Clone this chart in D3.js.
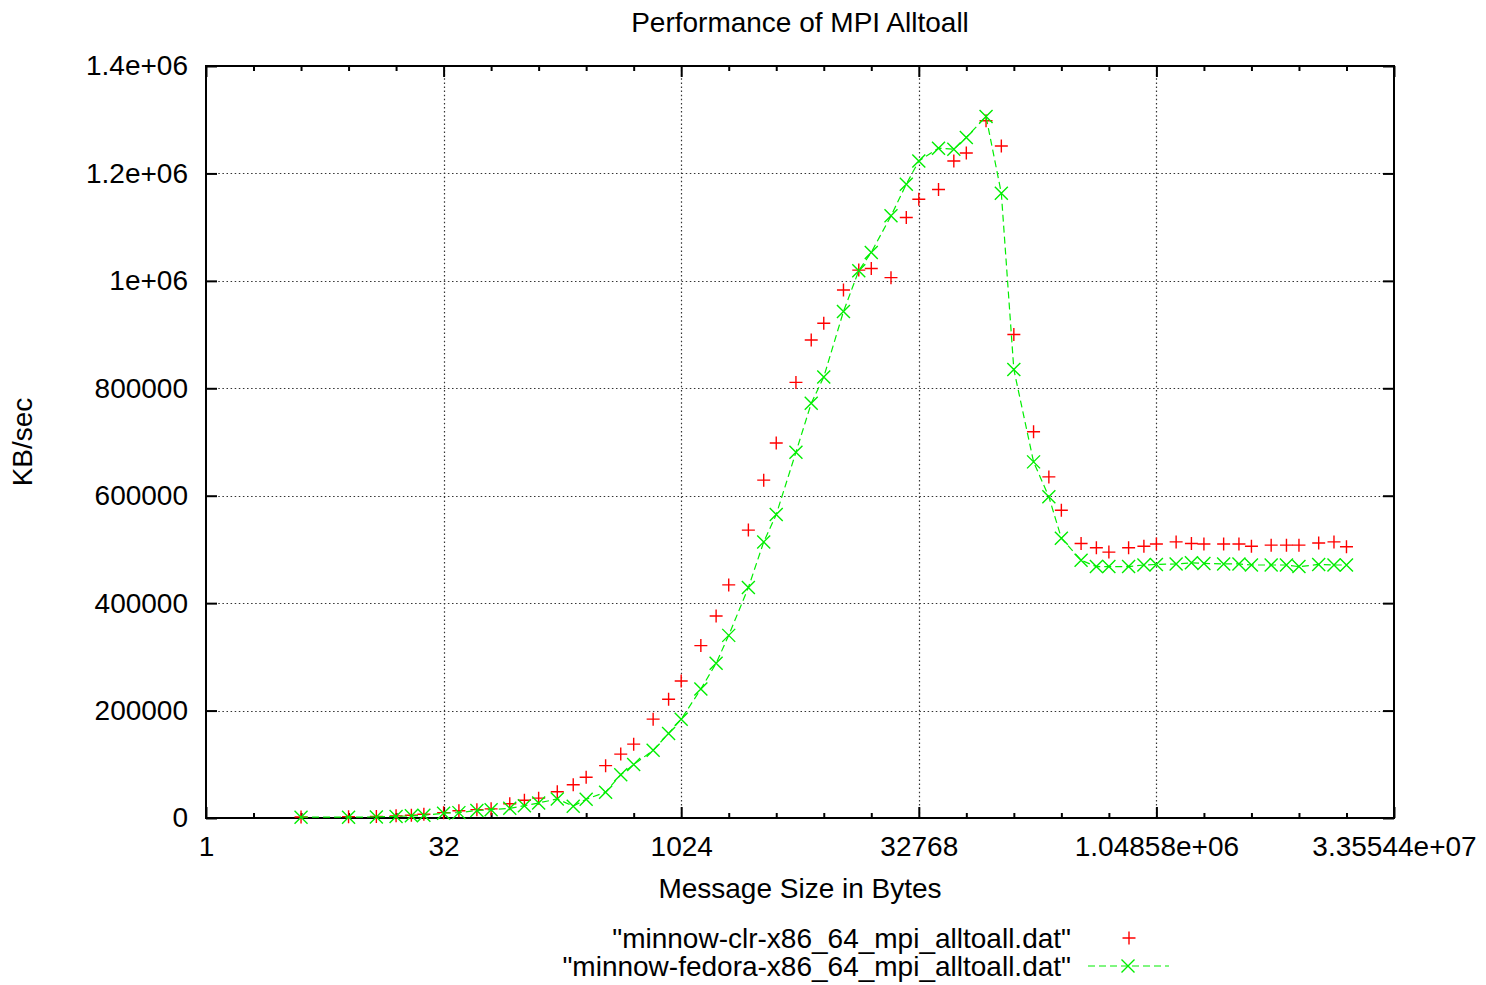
<!DOCTYPE html>
<html>
<head>
<meta charset="utf-8">
<script src="https://cdn.jsdelivr.net/npm/d3@7"></script>
<style>
  html, body { margin: 0; padding: 0; background: #fff; }
  svg { display: block; }
  text { font-family: "Liberation Sans", Arial, Helvetica, sans-serif; fill: #000; }
</style>
</head>
<body>
<svg id="chart" width="1486" height="985"></svg>
<script>
// ---- data ----
const messageSizes = [4, 8, 12, 16, 20, 24, 32, 40, 52, 64, 84, 104, 128, 168, 212, 256, 340, 424,
  512, 680, 852, 1024, 1364, 1704, 2048, 2728, 3412, 4096, 5460, 6824, 8192, 10920, 13652,
  16384, 21844, 27304, 32768, 43688, 54612, 65536, 87380, 109224, 131072, 174760, 218452,
  262144, 349524, 436904, 524288, 699048, 873812, 1048576, 1398100, 1747624, 2097152,
  2796200, 3495252, 4194304, 5592404, 6990504, 8388608, 11184808, 13981012, 16777216];

const clrValues = [2000, 2500, 3000, 4000, 5000, 7000, 10000, 13500, 15500, 17000, 26500, 33000,
  37000, 49000, 62000, 76000, 97500, 119000, 137500, 184000, 221000, 255000, 321000, 376000,
  434000, 536000, 629000, 698000, 811000, 890000, 921000, 983000, 1020000, 1023000, 1006000,
  1118000, 1152000, 1170000, 1223000, 1238000, 1298000, 1251000, 900000, 719000, 635000,
  573000, 511000, 503000, 495000, 503000, 506000, 510000, 514000, 511000, 510000, 510000,
  510000, 506000, 508000, 508000, 508000, 512000, 514000, 505000];

const fedoraValues = [1500, 1500, 2000, 3000, 4000, 5000, 9000, 10000, 14000, 15500, 18000, 23000,
  28000, 35500, 22000, 35000, 48000, 80500, 99500, 126000, 157500, 184000, 240000, 288000,
  340000, 429000, 514000, 565000, 681000, 772000, 821000, 943000, 1019000, 1053000, 1121000,
  1180000, 1223000, 1247000, 1245000, 1267000, 1306000, 1163000, 835000, 663000, 598000,
  521000, 480000, 468000, 468000, 468000, 471000, 472000, 473000, 475000, 474000, 473000,
  473000, 471000, 471000, 471000, 468000, 472000, 471000, 471000];

const xMajorTicks = [1, 32, 1024, 32768, 1048576, 33554432];
const xTickLabels = ["1", "32", "1024", "32768", "1.04858e+06", "3.35544e+07"];
const xMinorTicks = [2, 4, 8, 16, 64, 128, 256, 512, 2048, 4096, 8192, 16384, 65536, 131072,
  262144, 524288, 2097152, 4194304, 8388608, 16777216];
const yTicks = [0, 200000, 400000, 600000, 800000, 1000000, 1200000, 1400000];
const yTickLabels = ["0", "200000", "400000", "600000", "800000", "1e+06", "1.2e+06", "1.4e+06"];

const titleText = "Performance of MPI Alltoall";
const xLabelText = "Message Size in Bytes";
const yLabelText = "KB/sec";
const seriesNames = ["\"minnow-clr-x86_64_mpi_alltoall.dat\"", "\"minnow-fedora-x86_64_mpi_alltoall.dat\""];
const seriesColors = ["#ff0000", "#00ee00"];

// ---- layout ----
const L = 206, R = 1394, T = 66, B = 818;
const FS = 28;
const svg = d3.select("#chart");

const x = d3.scaleLog().base(2).domain([1, 33554432]).range([L, R]);
const y = d3.scaleLinear().domain([0, 1400000]).range([B, T]);

// grid
const grid = svg.append("g").attr("stroke", "#333").attr("stroke-width", 1.2)
  .attr("stroke-dasharray", "1.5,2.6").attr("fill", "none");
grid.selectAll("line.gx").data(xMajorTicks.slice(1, -1)).enter().append("line")
  .attr("x1", d => Math.round(x(d)) + 0.5).attr("x2", d => Math.round(x(d)) + 0.5)
  .attr("y1", T).attr("y2", B);
grid.selectAll("line.gy").data(yTicks.slice(1, -1)).enter().append("line")
  .attr("x1", L).attr("x2", R)
  .attr("y1", d => Math.round(y(d)) + 0.5).attr("y2", d => Math.round(y(d)) + 0.5);

// axes (ticks inward, mirrored)
function styleAxis(g) {
  g.select(".domain").remove();
  g.selectAll(".tick line").attr("stroke", "#000").attr("stroke-width", 2);
  g.selectAll(".tick text").style("font-size", FS + "px")
    .style("font-family", "'Liberation Sans', Arial, sans-serif").attr("fill", "#000");
}

const xAxisB = d3.axisBottom(x).tickValues(xMajorTicks).tickSize(-11).tickPadding(18)
  .tickFormat((d, i) => xTickLabels[i]);
svg.append("g").attr("transform", `translate(0,${B})`).call(xAxisB).call(styleAxis);
svg.append("g").attr("transform", `translate(0,${B})`)
  .call(d3.axisBottom(x).tickValues(xMinorTicks).tickSize(-5).tickFormat(""))
  .call(styleAxis);
svg.append("g").attr("transform", `translate(0,${T})`)
  .call(d3.axisTop(x).tickValues(xMajorTicks).tickSize(-11).tickFormat(""))
  .call(styleAxis);
svg.append("g").attr("transform", `translate(0,${T})`)
  .call(d3.axisTop(x).tickValues(xMinorTicks).tickSize(-5).tickFormat(""))
  .call(styleAxis);

const yAxisL = d3.axisLeft(y).tickValues(yTicks).tickSize(-11).tickPadding(18)
  .tickFormat((d, i) => yTickLabels[i]);
svg.append("g").attr("transform", `translate(${L},0)`).call(yAxisL).call(styleAxis);
svg.append("g").attr("transform", `translate(${R},0)`)
  .call(d3.axisRight(y).tickValues(yTicks).tickSize(-11).tickFormat(""))
  .call(styleAxis);

// frame
svg.append("rect").attr("x", L).attr("y", T).attr("width", R - L).attr("height", B - T)
  .attr("fill", "none").attr("stroke", "#000").attr("stroke-width", 2);

// markers
const PS = 6.5;
function plusPath(cx, cy) {
  return `M${cx - PS},${cy}H${cx + PS}M${cx},${cy - PS}V${cy + PS}`;
}
function crossPath(cx, cy) {
  return `M${cx - PS},${cy - PS}L${cx + PS},${cy + PS}M${cx - PS},${cy + PS}L${cx + PS},${cy - PS}`;
}

const clrData = messageSizes.map((s, i) => ({ s, v: clrValues[i] }));
const fedData = messageSizes.map((s, i) => ({ s, v: fedoraValues[i] }));

svg.append("g").selectAll("path").data(clrData).enter().append("path")
  .attr("d", d => plusPath(x(d.s), y(d.v)))
  .attr("stroke", seriesColors[0]).attr("stroke-width", 1.4).attr("fill", "none");

const line = d3.line().x(d => x(d.s)).y(d => y(d.v));
svg.append("path").datum(fedData).attr("d", line)
  .attr("fill", "none").attr("stroke", seriesColors[1]).attr("stroke-width", 1.2)
  .attr("stroke-dasharray", "7,4");
svg.append("g").selectAll("path").data(fedData).enter().append("path")
  .attr("d", d => crossPath(x(d.s), y(d.v)))
  .attr("stroke", seriesColors[1]).attr("stroke-width", 1.4).attr("fill", "none");

// title & labels
svg.append("text").attr("x", 800).attr("y", 32).attr("text-anchor", "middle")
  .style("font-size", FS + "px").text(titleText);
svg.append("text").attr("x", 800).attr("y", 898).attr("text-anchor", "middle")
  .style("font-size", FS + "px").text(xLabelText);
svg.append("text").attr("transform", "translate(32,442) rotate(-90)").attr("text-anchor", "middle")
  .style("font-size", FS + "px").text(yLabelText);

// legend
const legY = [938, 966];
seriesNames.forEach((name, i) => {
  svg.append("text").attr("x", 1071).attr("y", legY[i] + 9.5).attr("text-anchor", "end")
    .style("font-size", FS + "px").text(name);
});
svg.append("path").attr("d", plusPath(1129, legY[0]))
  .attr("stroke", seriesColors[0]).attr("stroke-width", 1.4).attr("fill", "none");
svg.append("line").attr("x1", 1088).attr("x2", 1169).attr("y1", legY[1]).attr("y2", legY[1])
  .attr("stroke", seriesColors[1]).attr("stroke-width", 1.2).attr("stroke-dasharray", "7,4");
svg.append("path").attr("d", crossPath(1128, legY[1]))
  .attr("stroke", seriesColors[1]).attr("stroke-width", 1.4).attr("fill", "none");
</script>
</body>
</html>
